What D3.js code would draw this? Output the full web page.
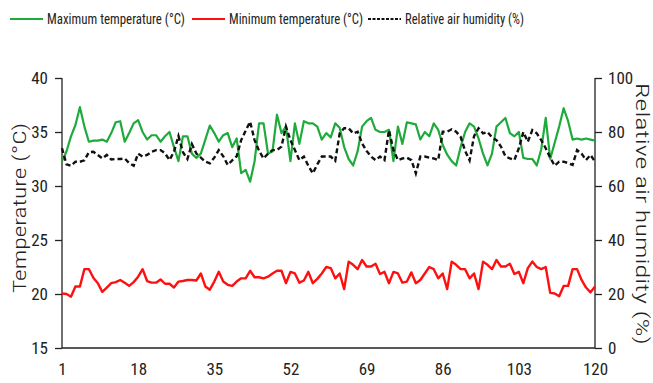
<!DOCTYPE html>
<html><head><meta charset="utf-8">
<script src="https://cdn.jsdelivr.net/npm/d3@7"></script>
<style>
body{margin:0;background:#fff;}
text{font-family:"Liberation Sans Narrow","Roboto Condensed",Roboto,"Liberation Sans",sans-serif;fill:#222;}
</style></head>
<body><svg id="c" width="653" height="383"></svg>
<script>
const days = d3.range(1, 121);
const xTickLabels = [1, 18, 35, 52, 69, 86, 103, 120];
const tempTicks = [15, 20, 25, 30, 35, 40];
const humTicks = [0, 20, 40, 60, 80, 100];
const maxTemp = [32.3,33.2,34.6,35.65,37.3,35.5,34.1,34.2,34.2,34.3,34.1,34.9,35.9,36.0,34.1,34.9,35.8,36.1,35.0,34.3,34.7,34.7,34.1,34.6,35.0,33.6,32.3,34.6,34.6,33.0,
32.6,33.0,34.3,35.6,34.9,34.1,34.7,34.9,33.6,34.4,31.2,31.5,30.4,32.3,35.8,35.8,33.0,33.2,36.6,34.9,35.5,32.3,35.8,33.9,36.0,35.8,35.8,35.5,34.3,34.9,
34.5,35.8,35.4,33.6,32.5,31.9,33.2,35.5,36.0,36.3,35.2,35.0,35.0,35.2,32.3,35.5,33.9,35.9,35.8,35.7,34.3,35.0,34.6,35.8,35.2,33.8,32.9,32.3,31.9,33.6,
35.0,35.8,35.5,34.4,33.0,31.9,33.0,35.5,35.9,36.3,34.9,34.6,35.0,32.6,32.5,32.5,31.9,33.4,36.3,32.5,34.0,35.5,37.2,36.0,34.3,34.4,34.3,34.4,34.3,34.2];
const minTemp = [20.05,20.0,19.75,20.7,20.7,22.3,22.3,21.5,21.0,20.2,20.6,21.0,21.1,21.3,21.05,20.75,21.1,21.6,22.3,21.2,21.05,21.05,21.35,20.95,20.95,20.6,21.15,21.2,21.3,21.3,
21.25,21.9,20.7,20.4,21.15,22.05,21.15,20.85,20.75,21.15,21.45,21.45,22.15,21.55,21.55,21.45,21.6,21.9,22.15,22.15,21.0,22.05,21.9,21.05,21.25,22.05,21.0,21.4,21.9,22.5,
22.4,21.45,21.9,20.45,23.0,22.7,22.3,23.15,22.55,22.55,22.8,21.85,22.05,21.0,22.05,21.9,21.05,21.15,22.0,21.0,21.3,21.9,22.5,22.3,21.45,21.9,20.45,23.0,22.7,22.3,
22.3,21.45,21.9,20.45,23.0,22.7,22.3,23.15,22.55,22.55,22.8,21.85,22.05,21.0,22.4,23.0,22.5,22.3,22.5,20.1,20.05,19.8,20.75,20.75,22.3,22.3,21.3,20.6,20.15,20.7];
const humidity = [74,68,67.5,69,69,69.5,72.5,72.7,71.5,70.2,71.5,69.8,70,70,70.2,68.5,67.5,72,70.9,71.5,72.7,73.3,73.3,72.1,69.6,72.7,78.5,72.5,70,75.5,
72,70.5,69,68.4,70.5,73.3,71,67.8,69.5,71,77,80.5,83.8,77,73,70.2,72,73.3,73.3,74.6,82,77,73.3,69.6,70.9,67.5,64.7,68,70.9,70.9,
70.9,69.3,79.5,81.4,81.4,79.5,80.1,75.8,73,70.9,69.6,70.9,69.6,80.7,73.3,69.6,70.2,70.5,69.6,64.7,70.9,70.9,70.5,70.2,69.6,80.1,80.1,81,80.1,78.2,
73,69.5,78.5,81.4,79.5,80,78,77,74.6,71,70.2,69.6,74,80,76.4,80.7,79.5,77,74,70.5,67.5,69,69,68.5,67.8,73.3,72,69.6,71.5,69];

const svg = d3.select("#c");
const L = 62, R = 595, T = 78, B = 348;
const x = d3.scaleLinear().domain([1, 120]).range([L, R]);
const yT = d3.scaleLinear().domain([15, 40]).range([B, T]);
const yH = d3.scaleLinear().domain([0, 100]).range([B, T]);
const FONT = '"Liberation Sans Narrow","Roboto Condensed",Roboto,"Liberation Sans",sans-serif';

// axes
const gl = svg.append("g").attr("transform", `translate(${L},0)`)
  .call(d3.axisLeft(yT).tickValues(tempTicks).tickSize(7).tickPadding(7));
const gr = svg.append("g").attr("transform", `translate(${R},0)`)
  .call(d3.axisRight(yH).tickValues(humTicks).tickSize(7).tickPadding(6));
const gb = svg.append("g").attr("transform", `translate(0,${B})`)
  .call(d3.axisBottom(x).tickValues(xTickLabels).tickSize(0).tickPadding(15));
[gl, gr, gb].forEach(g => {
  g.selectAll("path.domain").attr("stroke", "#222").attr("stroke-width", 1.3);
  g.selectAll("line").attr("stroke", "#222").attr("stroke-width", 1.3);
  g.selectAll("text").attr("font-size", 17).attr("fill", "#222").style("font-family", FONT);
});
gl.select("path.domain").attr("d", `M0,${T}V${B}`);
gr.select("path.domain").attr("d", `M0,${T}V${B}`);
gb.select("path.domain").attr("d", `M${L},0H${R}`);

// axis titles
svg.append("text").attr("transform", `translate(26,${208}) rotate(-90)`)
  .attr("text-anchor", "middle").attr("font-size", 18).attr("font-weight", 300)
  .attr("textLength", 170).attr("lengthAdjust", "spacingAndGlyphs").text("Temperature (°C)");
svg.append("text").attr("transform", `translate(636,${214}) rotate(90)`)
  .attr("text-anchor", "middle").attr("font-size", 18).attr("font-weight", 300)
  .attr("textLength", 262).attr("lengthAdjust", "spacingAndGlyphs").text("Relative air humidity (%)");

// lines
const lineT = d3.line().x((d, i) => x(days[i])).y(d => yT(d));
const lineH = d3.line().x((d, i) => x(days[i])).y(d => yH(d));
svg.append("path").attr("d", lineT(maxTemp)).attr("fill", "none")
  .attr("stroke", "#1faa3c").attr("stroke-width", 2.2).attr("stroke-linejoin", "round");
svg.append("path").attr("d", lineT(minTemp)).attr("fill", "none")
  .attr("stroke", "#ff1010").attr("stroke-width", 2.4).attr("stroke-linejoin", "round");
svg.append("path").attr("d", lineH(humidity)).attr("fill", "none")
  .attr("stroke", "#111").attr("stroke-width", 2.4).attr("stroke-dasharray", "5,3");

// legend
const legend = [
  {label: "Maximum temperature  (°C)", color: "#1faa3c", dash: null, x: 10, w: 138},
  {label: "Minimum temperature (°C)", color: "#ff1010", dash: null, x: 192, w: 134},
  {label: "Relative air humidity (%)", color: "#111", dash: "3,1.5", x: 368, w: 119}
];
const lg = svg.append("g");
legend.forEach(d => {
  lg.append("line").attr("x1", d.x).attr("x2", d.x + 33).attr("y1", 19).attr("y2", 19)
    .attr("stroke", d.color).attr("stroke-width", 2.2).attr("stroke-dasharray", d.dash);
  lg.append("text").attr("x", d.x + 37).attr("y", 24).attr("font-size", 14)
    .attr("textLength", d.w).attr("lengthAdjust", "spacingAndGlyphs").text(d.label);
});
</script></body></html>
